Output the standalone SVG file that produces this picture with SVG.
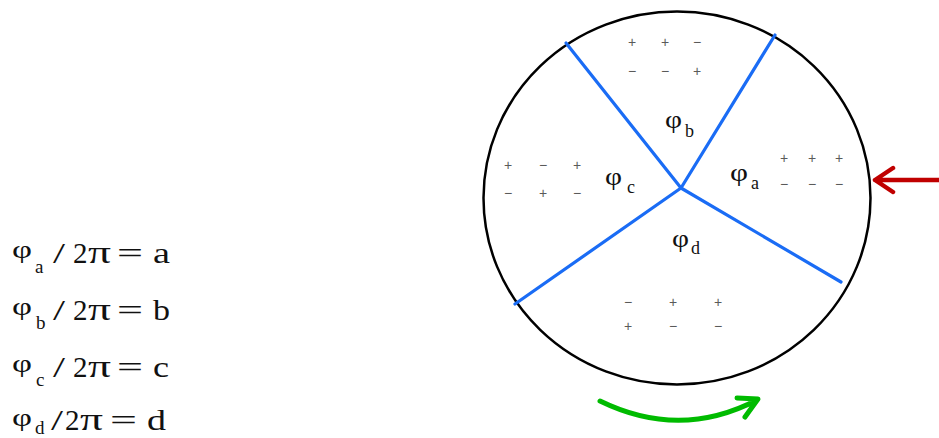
<svg xmlns="http://www.w3.org/2000/svg" width="939" height="438" viewBox="0 0 939 438">
<style>
.eq{font-family:"Liberation Serif","Times New Roman",serif;font-size:29px;fill:#111}
.lbl{font-family:"Liberation Serif","Times New Roman",serif;font-size:25px;fill:#111}
.ph{font-size:25px}
.pi{font-size:31px}
.sub{font-size:19px}
.sub2{font-size:18px}
.sg{font-family:"Liberation Sans",Arial,sans-serif;font-size:14px;fill:#5a5a5a;text-anchor:middle}
.blue{stroke:#1a6cf5;stroke-width:3.2;fill:none;stroke-linecap:round}
</style>
<rect width="939" height="438" fill="#fff"/>
<g id="equations">
<text class="eq"><tspan class="ph" x="12" y="258" textLength="20" lengthAdjust="spacingAndGlyphs">φ</tspan><tspan class="sub" x="35" y="273">a</tspan><tspan> </tspan><tspan x="53" y="263" textLength="12" lengthAdjust="spacingAndGlyphs">/</tspan><tspan> </tspan><tspan x="73" y="263">2</tspan><tspan class="pi" x="88" y="263" textLength="23" lengthAdjust="spacingAndGlyphs">π</tspan><tspan> </tspan><tspan x="117" y="263" textLength="26" lengthAdjust="spacingAndGlyphs">=</tspan><tspan> </tspan><tspan x="153" y="263" textLength="17" lengthAdjust="spacingAndGlyphs">a</tspan></text>
<text class="eq"><tspan class="ph" x="12" y="315" textLength="20" lengthAdjust="spacingAndGlyphs">φ</tspan><tspan class="sub" x="36" y="329">b</tspan><tspan> </tspan><tspan x="53" y="320" textLength="12" lengthAdjust="spacingAndGlyphs">/</tspan><tspan> </tspan><tspan x="73" y="320">2</tspan><tspan class="pi" x="88" y="320" textLength="23" lengthAdjust="spacingAndGlyphs">π</tspan><tspan> </tspan><tspan x="117" y="320" textLength="26" lengthAdjust="spacingAndGlyphs">=</tspan><tspan> </tspan><tspan x="153" y="320" textLength="17" lengthAdjust="spacingAndGlyphs">b</tspan></text>
<text class="eq"><tspan class="ph" x="12" y="372" textLength="20" lengthAdjust="spacingAndGlyphs">φ</tspan><tspan class="sub" x="36" y="386">c</tspan><tspan> </tspan><tspan x="53" y="377" textLength="12" lengthAdjust="spacingAndGlyphs">/</tspan><tspan> </tspan><tspan x="73" y="377">2</tspan><tspan class="pi" x="88" y="377" textLength="23" lengthAdjust="spacingAndGlyphs">π</tspan><tspan> </tspan><tspan x="117" y="377" textLength="26" lengthAdjust="spacingAndGlyphs">=</tspan><tspan> </tspan><tspan x="153" y="377" textLength="16" lengthAdjust="spacingAndGlyphs">c</tspan></text>
<text class="eq"><tspan class="ph" x="12" y="426" textLength="20" lengthAdjust="spacingAndGlyphs">φ</tspan><tspan class="sub" x="35" y="434">d</tspan><tspan x="51" y="430" textLength="12" lengthAdjust="spacingAndGlyphs">/</tspan><tspan x="65" y="430">2</tspan><tspan class="pi" x="80" y="430" textLength="23" lengthAdjust="spacingAndGlyphs">π</tspan><tspan> </tspan><tspan x="110" y="430" textLength="27" lengthAdjust="spacingAndGlyphs">=</tspan><tspan> </tspan><tspan x="147" y="430" textLength="19" lengthAdjust="spacingAndGlyphs">d</tspan></text>
</g>
<g id="disk">
<ellipse cx="677" cy="198" rx="193.5" ry="186.5" fill="none" stroke="#000" stroke-width="2.5"/>
</g>
<g id="connectors">
<line class="blue" x1="681" y1="188" x2="566" y2="43"/>
<line class="blue" x1="681" y1="188" x2="775" y2="35"/>
<line class="blue" x1="681" y1="188" x2="515" y2="304"/>
<line class="blue" x1="681" y1="188" x2="841" y2="282"/>
</g>
<g id="sector-a">
<text class="lbl"><tspan x="730" y="181" textLength="18" lengthAdjust="spacingAndGlyphs">φ</tspan><tspan class="sub2" x="751" y="189">a</tspan></text>
<text class="sg" x="784" y="163">+</text><text class="sg" x="812" y="163">+</text><text class="sg" x="839" y="163">+</text>
<text class="sg" x="784" y="189">−</text><text class="sg" x="812" y="189">−</text><text class="sg" x="839" y="189">−</text>
</g>
<g id="sector-b">
<text class="lbl"><tspan x="665" y="128" textLength="17" lengthAdjust="spacingAndGlyphs">φ</tspan><tspan class="sub2" x="685" y="137">b</tspan></text>
<text class="sg" x="632" y="47">+</text><text class="sg" x="665" y="47">+</text><text class="sg" x="697" y="47">−</text>
<text class="sg" x="632" y="76">−</text><text class="sg" x="665" y="76">−</text><text class="sg" x="697" y="76">+</text>
</g>
<g id="sector-c">
<text class="lbl"><tspan x="605" y="185" textLength="17" lengthAdjust="spacingAndGlyphs">φ</tspan><tspan class="sub2" x="627" y="193">c</tspan></text>
<text class="sg" x="508" y="170">+</text><text class="sg" x="543" y="170">−</text><text class="sg" x="577" y="170">+</text>
<text class="sg" x="508" y="198">−</text><text class="sg" x="543" y="198">+</text><text class="sg" x="577" y="198">−</text>
</g>
<g id="sector-d">
<text class="lbl"><tspan x="672" y="247" textLength="17" lengthAdjust="spacingAndGlyphs">φ</tspan><tspan class="sub2" x="691" y="254">d</tspan></text>
<text class="sg" x="628" y="307">−</text><text class="sg" x="673" y="307">+</text><text class="sg" x="718" y="307">+</text>
<text class="sg" x="628" y="331">+</text><text class="sg" x="673" y="331">−</text><text class="sg" x="718" y="331">−</text>
</g>
<g id="arrows">
<path d="M939 180 H875 M893 168 L875 180 L893 192" fill="none" stroke="#c00000" stroke-width="4.5" stroke-linecap="round" stroke-linejoin="round"/>
<path d="M600 401 Q680 440 757 400 M737 398 L758 399 L745 417" fill="none" stroke="#00bb00" stroke-width="5" stroke-linecap="round" stroke-linejoin="round"/>
</g>
</svg>
